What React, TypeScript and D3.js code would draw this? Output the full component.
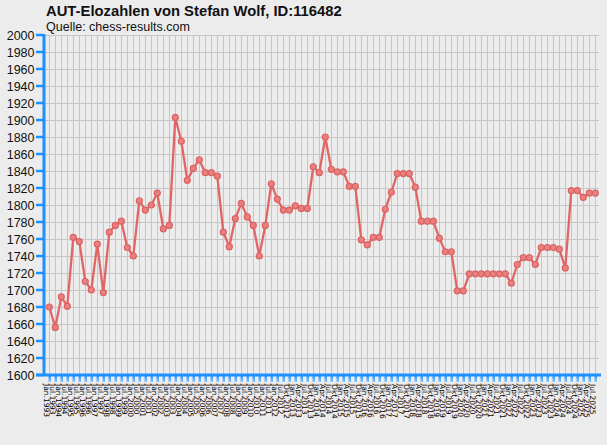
import React, { useEffect, useRef } from 'react';
import * as d3 from 'd3';

// Elo history
const periods: string[] = [
  'Jan.1993', 'Jul.1993', 'Jan.1994', 'Jul.1994', 'Jan.1995', 'Jul.1995', 'Jan.1996', 'Jul.1996',
  'Jan.1997', 'Jul.1997', 'Jan.1998', 'Jul.1998', 'Jan.1999', 'Jul.1999', 'Jan.2000', 'Jul.2000',
  'Jan.2001', 'Jul.2001', 'Jan.2002', 'Jul.2002', 'Jan.2003', 'Jul.2003', 'Jan.2004', 'Jul.2004',
  'Jan.2005', 'Jul.2005', 'Jan.2006', 'Jul.2006', 'Jan.2007', 'Jul.2007', 'Jan.2008', 'Jul.2008',
  'Jan.2009', 'Jul.2009', 'Jan.2010', 'Jul.2010', 'Jan.2011', 'Jul.2011', 'Jan.2012',
  'Jul.2012', 'Okt.2012', 'Jan.2013', 'Apr.2013', 'Jul.2013', 'Okt.2013', 'Jan.2014', 'Apr.2014',
  'Jul.2014', 'Okt.2014', 'Jan.2015', 'Apr.2015', 'Jul.2015', 'Okt.2015', 'Jan.2016', 'Apr.2016',
  'Jul.2016', 'Okt.2016', 'Jan.2017', 'Apr.2017', 'Jul.2017', 'Okt.2017', 'Jan.2018', 'Apr.2018',
  'Jul.2018', 'Okt.2018', 'Jan.2019', 'Apr.2019', 'Jul.2019', 'Okt.2019', 'Jan.2020', 'Apr.2020',
  'Jul.2020', 'Okt.2020', 'Jan.2021', 'Apr.2021', 'Jul.2021', 'Okt.2021', 'Jan.2022', 'Apr.2022',
  'Jul.2022', 'Okt.2022', 'Jan.2023', 'Apr.2023', 'Jul.2023', 'Okt.2023', 'Jan.2024', 'Apr.2024',
  'Jul.2024', 'Okt.2024', 'Jan.2025', 'Apr.2025', 'Jul.2025',
];

const elo: number[] = [
  1680, 1656, 1692, 1681, 1762, 1757, 1710, 1700, 1754, 1697,
  1768, 1776, 1781, 1750, 1740, 1805, 1794, 1800, 1814, 1772,
  1776, 1903, 1875, 1829, 1843, 1853, 1838, 1838, 1834, 1768,
  1751, 1784, 1802, 1786, 1776, 1740, 1776, 1825, 1807, 1794,
  1794, 1799, 1796, 1796, 1845, 1838, 1880, 1842, 1839, 1839,
  1822, 1822, 1759, 1753, 1762, 1762, 1795, 1815, 1837, 1837,
  1837, 1821, 1781, 1781, 1781, 1761, 1745, 1745, 1699, 1699,
  1719, 1719, 1719, 1719, 1719, 1719, 1719, 1708, 1730, 1738,
  1738, 1730, 1750, 1750, 1750, 1748, 1726, 1817, 1817, 1809,
  1814, 1814,
];

const eloDomain: number[] = [1600, 2000];

const title = 'AUT-Elozahlen von Stefan Wolf, ID:116482';
const subtitle = 'Quelle: chess-results.com';

const W = 607;
const H = 445;
const left = 43;
const top = 35;
const bottom = 375;
const right = 599;

export default function App() {
  const svgRef = useRef<SVGSVGElement>(null);

  useEffect(() => {
    document.body.style.margin = '0';
    const svg = d3.select(svgRef.current);
    svg.selectAll('*').remove();

    const x = d3.scalePoint<string>().domain(periods).range([49.3, 595.3]);
    const y = d3.scaleLinear().domain(eloDomain).range([bottom, top]);

    svg.append('rect').attr('width', W).attr('height', H).attr('fill', '#ececec');

    // grid
    const grid = svg.append('g').attr('stroke', '#c6c6c6').attr('stroke-width', 1);
    y.ticks(20).forEach((t) => {
      grid.append('line')
        .attr('x1', left).attr('x2', right)
        .attr('y1', Math.round(y(t)) + 0.5).attr('y2', Math.round(y(t)) + 0.5);
    });
    periods.forEach((p) => {
      const px = Math.round(x(p)!) + 0.5;
      grid.append('line').attr('x1', px).attr('x2', px).attr('y1', top).attr('y2', bottom);
    });

    // titles
    svg.append('text')
      .attr('x', 46).attr('y', 16)
      .attr('font-family', 'Liberation Sans, Arial, sans-serif')
      .attr('font-weight', 'bold').attr('font-size', 14.8)
      .attr('fill', '#111')
      .text(title);
    svg.append('text')
      .attr('x', 46).attr('y', 31)
      .attr('font-family', 'Liberation Sans, Arial, sans-serif')
      .attr('font-size', 12.5)
      .attr('fill', '#111')
      .text(subtitle);

    // y axis
    const ya = svg.append('g');
    ya.append('line')
      .attr('x1', left + 1).attr('x2', left + 1).attr('y1', top - 1).attr('y2', bottom + 1)
      .attr('stroke', '#1e90ff').attr('stroke-width', 3);
    y.ticks(20).forEach((t) => {
      ya.append('line')
        .attr('x1', 36).attr('x2', left)
        .attr('y1', y(t)).attr('y2', y(t))
        .attr('stroke', '#1e90ff').attr('stroke-width', 2.5);
      ya.append('text')
        .attr('x', 34.5).attr('y', y(t)).attr('dy', '0.36em')
        .attr('text-anchor', 'end')
        .attr('font-family', 'Liberation Sans, Arial, sans-serif')
        .attr('font-size', 12.5).attr('fill', '#111')
        .text(t);
    });

    // x axis
    const xa = svg.append('g');
    const tickGrad = svg.append('defs').append('linearGradient')
      .attr('id', 'tickGrad').attr('x1', 0).attr('x2', 0).attr('y1', 0).attr('y2', 1);
    tickGrad.append('stop').attr('offset', '0%').attr('stop-color', '#1e90ff');
    tickGrad.append('stop').attr('offset', '100%').attr('stop-color', '#8cc6ff');
    periods.forEach((p) => {
      xa.append('rect')
        .attr('x', Math.round(x(p)!) - 0.5).attr('y', bottom).attr('width', 2.5).attr('height', 7)
        .attr('fill', 'url(#tickGrad)');
      xa.append('text')
        .attr('transform', `translate(${x(p)! - 2.5},384) rotate(90)`)
        .attr('font-family', 'DejaVu Sans, sans-serif')
        .attr('font-size', 7.5).attr('fill', '#000')
        .attr('dy', '0.35em')
        .text(p);
    });
    xa.append('line')
      .attr('x1', 36).attr('x2', right + 2).attr('y1', bottom).attr('y2', bottom)
      .attr('stroke', '#1e90ff').attr('stroke-width', 3);

    // series
    const line = d3.line<number>()
      .x((_, i) => x(periods[i])!)
      .y((d) => y(d));
    svg.append('path')
      .datum(elo)
      .attr('d', line)
      .attr('fill', 'none')
      .attr('stroke', '#e06666')
      .attr('stroke-width', 2.3)
      .attr('stroke-linejoin', 'round');
    svg.append('g').selectAll('circle')
      .data(elo)
      .enter()
      .append('circle')
      .attr('cx', (_, i) => x(periods[i])!)
      .attr('cy', (d) => y(d))
      .attr('r', 3)
      .attr('fill', '#e98080')
      .attr('stroke', '#dc6262')
      .attr('stroke-width', 1.2);
  }, []);

  return (
    <svg
      ref={svgRef}
      width={W}
      height={H}
      viewBox={`0 0 ${W} ${H}`}
      style={{ position: 'absolute', left: 0, top: 0, display: 'block' }}
    />
  );
}
